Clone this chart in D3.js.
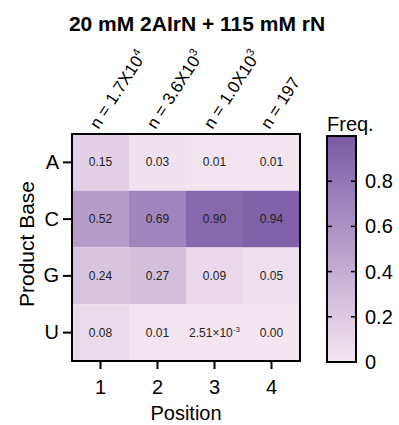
<!DOCTYPE html>
<html><head><meta charset="utf-8">
<script src="https://cdn.jsdelivr.net/npm/d3@7"></script>
<style>
body{margin:0;background:#fff;}
text{font-family:"Liberation Sans",Arial,Helvetica,sans-serif;fill:#000;}
</style></head>
<body>
<svg id="c" width="399" height="425"></svg>
<script>
const title = "20 mM 2AIrN + 115 mM rN";
const positions = ["1","2","3","4"];
const bases = ["A","C","G","U"];
const nLabels = [["1.7X10","4"],["3.6X10","3"],["1.0X10","3"],["197",""]];
const valA = [0.15, 0.03, 0.01, 0.01];
const valC = [0.52, 0.69, 0.90, 0.94];
const valG = [0.24, 0.27, 0.09, 0.05];
const valU = [0.08, 0.01, 0.00251, 0.00];
const colorTicks = [0, 0.2, 0.4, 0.6, 0.8];

const rows = [valA, valC, valG, valU];
const cells = [];
rows.forEach((r, i) => r.forEach((v, j) => cells.push({base: bases[i], pos: positions[j], v})));

const svg = d3.select("#c");
const L = 72, R = 300, T = 134, B = 361;

const x = d3.scaleBand().domain(positions).range([L, R]);
const y = d3.scaleBand().domain(bases).range([T, B]);
const color = d3.scaleLinear().domain([0, 1]).range(["#f4e6f1", "#7a5aa5"]).interpolate(d3.interpolateRgb);

// title
svg.append("text").attr("x", 197).attr("y", 31).attr("text-anchor", "middle")
  .style("font-size", "21px").style("font-weight", "bold").text(title);

// cells
svg.append("g").selectAll("rect").data(cells).join("rect")
  .attr("x", d => x(d.pos)).attr("y", d => y(d.base))
  .attr("width", x.bandwidth()).attr("height", y.bandwidth())
  .attr("fill", d => color(d.v));

function fmt(g, v) {
  if (v > 0 && v < 0.005) {
    const e = Math.floor(Math.log10(v));
    const m = (v / Math.pow(10, e)).toFixed(2);
    g.append("tspan").text(m + "\u00d710");
    g.append("tspan").attr("dy", -5).style("font-size", "8px").text(e);
  } else {
    g.text(v.toFixed(2));
  }
}
svg.append("g").selectAll("text").data(cells).join("text")
  .attr("x", d => x(d.pos) + x.bandwidth() / 2)
  .attr("y", d => y(d.base) + y.bandwidth() / 2 + 4)
  .attr("text-anchor", "middle").style("font-size", "12px").style("fill", "#222")
  .each(function(d){ fmt(d3.select(this), d.v); });

// frame
svg.append("rect").attr("x", L).attr("y", T).attr("width", R - L).attr("height", B - T)
  .attr("fill", "none").attr("stroke", "#000").attr("stroke-width", 2);

// y axis
const yAxis = svg.append("g").attr("transform", `translate(${L},0)`)
  .call(d3.axisLeft(y).tickSize(9).tickPadding(4));
yAxis.select(".domain").remove();
yAxis.selectAll("line").attr("stroke", "#000").attr("stroke-width", 2);
yAxis.selectAll("text").style("font-size", "20px").attr("font-family", null);

svg.append("text").attr("transform", "translate(34,244) rotate(-90)")
  .attr("text-anchor", "middle").style("font-size", "21px").text("Product Base");

// x axis
const xAxis = svg.append("g").attr("transform", `translate(0,${B})`)
  .call(d3.axisBottom(x).tickSize(8).tickPadding(11));
xAxis.select(".domain").remove();
xAxis.selectAll("line").attr("stroke", "#000").attr("stroke-width", 2);
xAxis.selectAll("text").style("font-size", "20px").attr("font-family", null);

svg.append("text").attr("x", (L + R) / 2).attr("y", 420).attr("text-anchor", "middle")
  .style("font-size", "20px").text("Position");

// n labels
svg.append("g").selectAll("text").data(positions).join("text")
  .attr("transform", (d, i) => `translate(${x(d) + x.bandwidth() / 2 - 2},130) rotate(-57)`)
  .style("font-size", "17px")
  .each(function(d, i){
    const t = d3.select(this);
    t.append("tspan").text("n = " + nLabels[i][0]);
    if (nLabels[i][1]) t.append("tspan").attr("dy", -7).style("font-size", "11px").text(nLabels[i][1]);
  });

// colorbar
const cbL = 327, cbW = 29, cbT = 136, cbB = 362;
const cy = d3.scaleLinear().domain([0, 1]).range([cbB, cbT]);
const defs = svg.append("defs");
const grad = defs.append("linearGradient").attr("id", "g").attr("x1", 0).attr("y1", 1).attr("x2", 0).attr("y2", 0);
d3.range(0, 1.01, 0.1).forEach(t => grad.append("stop").attr("offset", t).attr("stop-color", color(t)));
svg.append("rect").attr("x", cbL).attr("y", cbT).attr("width", cbW).attr("height", cbB - cbT)
  .attr("fill", "url(#g)").attr("stroke", "#000").attr("stroke-width", 2);
const cbg = svg.append("g");
cbg.selectAll("line.l").data(colorTicks.filter(t => t > 0)).join("line")
  .attr("x1", cbL).attr("x2", cbL + 5).attr("y1", d => cy(d)).attr("y2", d => cy(d))
  .attr("stroke", "#000").attr("stroke-width", 1.5);
cbg.selectAll("line.r").data(colorTicks.filter(t => t > 0)).join("line")
  .attr("x1", cbL + cbW - 5).attr("x2", cbL + cbW).attr("y1", d => cy(d)).attr("y2", d => cy(d))
  .attr("stroke", "#000").attr("stroke-width", 1.5);
cbg.selectAll("text").data(colorTicks).join("text")
  .attr("x", 365).attr("y", d => cy(d) + 7).style("font-size", "20px")
  .text(d => d === 0 ? "0" : d.toFixed(1));
svg.append("text").attr("x", 327).attr("y", 131).style("font-size", "20px").text("Freq.");
</script>
</body></html>
